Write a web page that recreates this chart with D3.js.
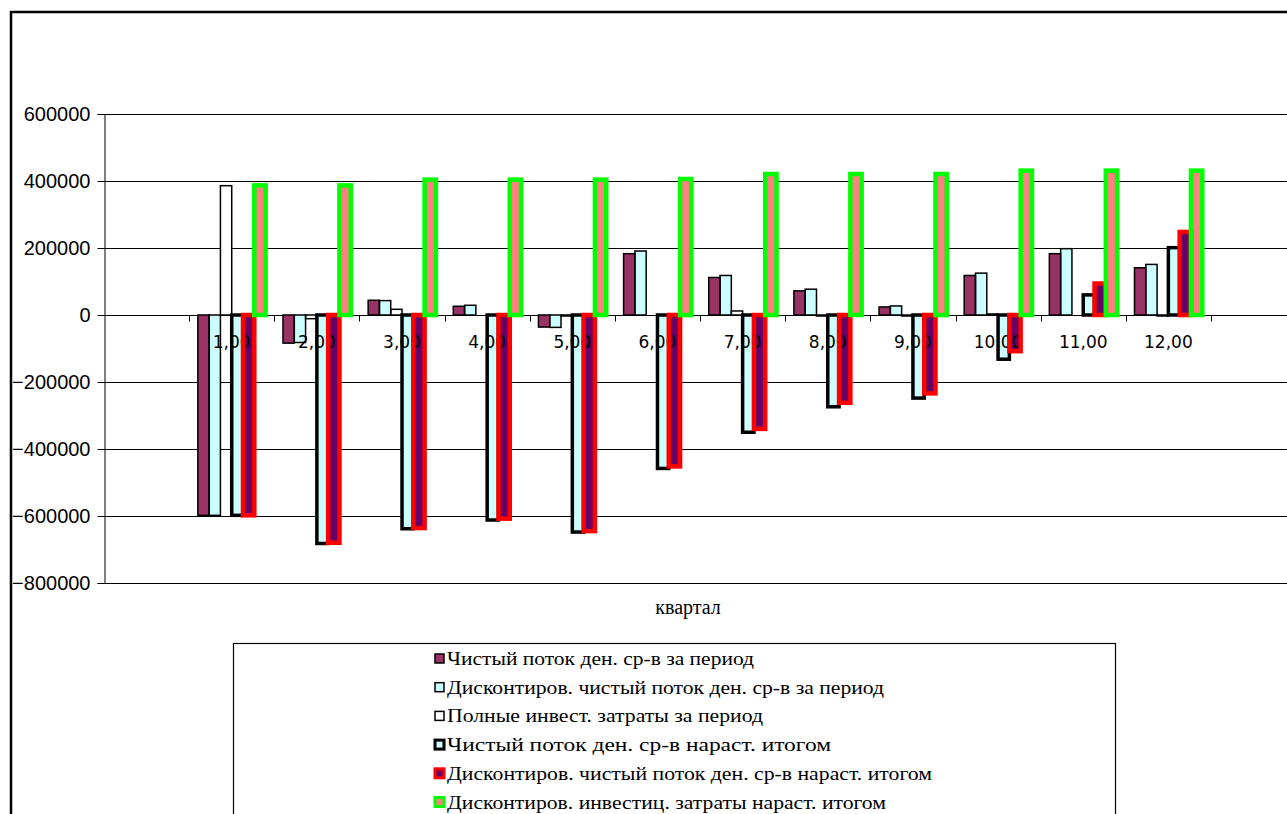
<!DOCTYPE html>
<html><head><meta charset="utf-8">
<script src="https://cdn.jsdelivr.net/npm/d3@7"></script>
<style>body{margin:0;background:#fff}svg{display:block}</style>
</head><body>
<svg id="c" width="1287" height="814"></svg>
<script>
// ---- data ----
const categories = ["1,00","2,00","3,00","4,00","5,00","6,00","7,00","8,00","9,00","10,00","11,00","12,00"];
const seriesNames = [
  "Чистый поток ден. ср-в за период",
  "Дисконтиров. чистый поток ден. ср-в за период",
  "Полные инвест. затраты за период",
  "Чистый поток ден. ср-в нараст. итогом",
  "Дисконтиров. чистый поток ден. ср-в нараст. итогом",
  "Дисконтиров. инвестиц. затраты нараст. итогом"
];
const netFlow      = [-598000, -84000, 44000, 26000, -36000, 183000, 112000, 72000, 24000, 118000, 183000, 141000];
const discNetFlow  = [-598000, -82000, 43000, 29000, -37000, 191000, 118000, 77000, 27000, 125000, 198000, 151000];
const investPeriod = [386000, -11000, 17000, 0, -3000, 0, 12000, -3000, -3000, 3000, 0, -3000];
const netCum       = [-598000, -682000, -638000, -612000, -648000, -458000, -350000, -274000, -248000, -132000, 60000, 201000];
const discNetCum   = [-598000, -680000, -636000, -608000, -645000, -452000, -340000, -262000, -234000, -108000, 94000, 248000];
const discInvCum   = [387000, 387000, 404000, 404000, 404000, 406000, 421000, 421000, 421000, 431000, 431000, 431000];
const yTicks = [-800000,-600000,-400000,-200000,0,200000,400000,600000];
const xTitle = "квартал";

// ---- styles ----
const serifFont = "'Liberation Serif', Tinos, 'DejaVu Serif', 'Times New Roman', Times, serif";
const styles = [
  {fill:"#993366", stroke:"#000", sw:1.5},
  {fill:"#CCFFFF", stroke:"#000", sw:1.5},
  {fill:"#FFFFFF", stroke:"#000", sw:1.5},
  {fill:"#CCFFFF", stroke:"#000", sw:3.5},
  {fill:"#660066", stroke:"#FF0000", sw:4.5},
  {fill:"#FF8080", stroke:"#00FF00", sw:4.5}
];
const allSeries = [netFlow, discNetFlow, investPeriod, netCum, discNetCum, discInvCum];

const svg = d3.select("#c");
// outer chart frame
svg.append("rect").attr("x",11).attr("y",12).attr("width",1400).attr("height",900)
  .attr("fill","#fff").attr("stroke","#000").attr("stroke-width",2.5);

const plotL = 104, plotT = 114, plotB = 583, step = 85.15;
const slots = d3.range(categories.length + 2);
const x = d3.scaleBand().domain(slots).range([plotL, plotL + step*slots.length]).padding(0);
const y = d3.scaleLinear().domain([-800000, 600000]).range([plotB, plotT]);
const xs = d3.scaleBand().domain(d3.range(6)).range([0, step]).paddingInner(0).paddingOuter(0.77);

// gridlines
svg.append("g").selectAll("line").data(yTicks).join("line")
  .attr("x1",plotL).attr("x2",1300).attr("y1",d=>Math.round(y(d))+0.5).attr("y2",d=>Math.round(y(d))+0.5)
  .attr("stroke","#000").attr("stroke-width",1);

// y axis
const yAxis = svg.append("g").attr("transform",`translate(${plotL+0.5},0)`)
  .call(d3.axisLeft(y).tickValues(yTicks).tickFormat(d3.format("d")).tickSize(7).tickPadding(7));
yAxis.select(".domain").attr("stroke","#000");
yAxis.selectAll(".tick line").attr("stroke","#000");
yAxis.selectAll("text").attr("font-family","Liberation Sans, Arial, sans-serif").attr("font-size",20).attr("fill","#000");

// x axis line at zero
const y0 = Math.round(y(0))+0.5;
svg.append("line").attr("x1",plotL).attr("x2",1300).attr("y1",y0).attr("y2",y0).attr("stroke","#000");
// category boundary ticks
svg.append("g").selectAll("line").data(d3.range(1, categories.length+2)).join("line")
  .attr("x1",d=>Math.round(x(d))+0.5).attr("x2",d=>Math.round(x(d))+0.5)
  .attr("y1",y0).attr("y2",y0+6).attr("stroke","#000");

const data = [];
categories.forEach((c,i)=>allSeries.forEach((s,j)=>data.push({i, j, v:s[i]})));
const bx = d => x(d.i+1) + xs(d.j);
const by = d => Math.min(y(d.v), y(0));
const bh = d => Math.abs(y(d.v) - y(0));

// bar fills
svg.append("g").selectAll("rect").data(data).join("rect")
  .attr("x",bx).attr("y",by).attr("width",xs.bandwidth()).attr("height",bh)
  .attr("fill",d=>styles[d.j].fill);

// category labels (between fills and borders)
svg.append("g").selectAll("text").data(categories).join("text")
  .attr("x",(d,i)=>x(i+1)+step/2).attr("y",348)
  .attr("text-anchor","middle").attr("font-family","DejaVu Sans, sans-serif").attr("font-size",17)
  .attr("fill","#000").text(d=>d);

// bar borders
svg.append("g").selectAll("rect").data(data).join("rect")
  .attr("x",bx).attr("y",by).attr("width",xs.bandwidth()).attr("height",bh)
  .attr("fill","none").attr("stroke",d=>styles[d.j].stroke).attr("stroke-width",d=>styles[d.j].sw);

// x title
svg.append("text").attr("x",688).attr("y",614).attr("text-anchor","middle")
  .style("font-family",serifFont).style("font-size","20px").attr("fill","#000").text(xTitle);

// legend
svg.append("rect").attr("x",233.5).attr("y",643.5).attr("width",882).attr("height",300)
  .attr("fill","#fff").attr("stroke","#000").attr("stroke-width",1.2);
const legendW = [307, 437, 316, 384, 485, 439];
const lg = svg.append("g").selectAll("g").data(seriesNames).join("g")
  .attr("transform",(d,i)=>`translate(435,${654 + i*28.7})`);
lg.append("rect").attr("x",0).attr("y",0).attr("width",9).attr("height",9)
  .attr("fill",(d,i)=>styles[i].fill).attr("stroke",(d,i)=>styles[i].stroke)
  .attr("stroke-width",(d,i)=>Math.min(styles[i].sw,3));
lg.append("text").attr("x",12).attr("y",11)
  .style("font-family",serifFont).style("font-size","18.5px").attr("fill","#000")
  .attr("textLength",(d,i)=>legendW[i]).attr("lengthAdjust","spacingAndGlyphs").text(d=>d);
</script>
</body></html>
